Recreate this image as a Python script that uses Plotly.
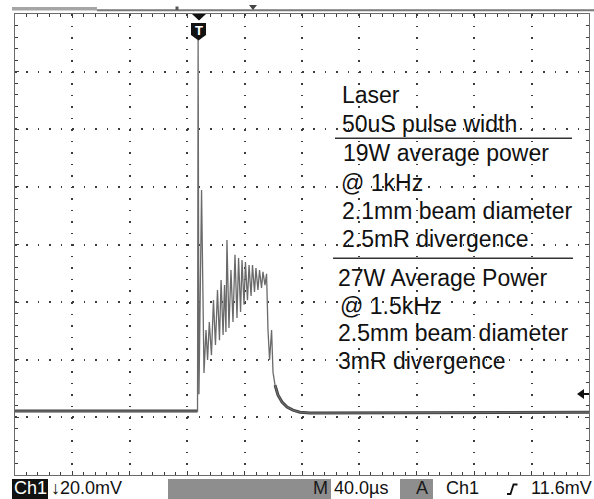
import numpy as np
import plotly.graph_objects as go

# ---------------- data ----------------
# Ch1 trace: time in µs from left edge of screen (40 µs/div), voltage in mV (20 mV/div, 0 = centre)
time_us = [0.0, 127.2, 127.6, 128.2, 130.0, 131.7,
           133.1, 134.2, 135.4, 136.9, 138.3, 139.7, 141.1, 142.5, 143.6, 145.0,
           146.0, 147.0, 147.7, 149.1, 150.5, 151.9, 153.3, 154.7, 155.8, 157.2,
           158.2, 159.6, 160.6, 162.0, 163.1, 164.5, 165.5, 166.9, 167.9, 169.3,
           170.4, 171.8, 172.8, 174.2, 175.3, 176.3, 177.4, 178.8, 179.8, 181.2,
           183.3, 186.1, 189.6, 193.7, 198.6, 205.6, 400.0]
volt_mv = [-57.8, -57.8, 71.0, -52.0, 18.9, -44.6,
           -29.7, -40.1, -26.9, -38.4, -19.3, -34.9, -15.8, -33.2, -12.3, -31.4,
           -14.1, -30.4, 1.6, -29.0, -8.9, -26.9, -3.6, -25.5, -4.7, -23.4,
           -5.4, -20.9, -6.1, -19.3, -7.1, -17.9, -7.1, -16.5, -8.2, -15.8,
           -8.9, -15.1, -9.5, -14.1, -10.2, -29.7, -40.1, -29.7, -44.3, -48.8,
           -52.3, -54.7, -56.4, -57.5, -58.2, -58.5, -58.2]

pulse_start_us = 127.3   # trace is a noisy thick band outside the pulse
tail_start_us = 181.0

# text block on the screen
block_lines = ["Laser", "50uS pulse width",
               "19W average power", "@ 1kHz", "2.1mm beam diameter", "2.5mR divergence",
               "27W Average Power", "@ 1.5kHz", "2.5mm beam diameter", "3mR divergence"]

# status-bar readouts
ch_label = "Ch1"
volts_div = "\u219320.0mV"
time_div = "40.0\u00b5s"
trig_src = "Ch1"
trig_level = "11.6mV"

# axis settings (scope graticule: 10 x 8 divisions)
x_range = [0, 400]
y_range = [-80, 80]
x_div, y_div = 40, 20

# ---------------- layout geometry ----------------
W, H = 594, 499
L, R, T, B = 15, 589, 14, 475


def X(px):
    return (px - L) / (R - L)


def Y(py):
    return (B - py) / (B - T)


t = np.array(time_us)
v = np.array(volt_mv)

fig = go.Figure()
# noise band on the baseline / tail
fig.add_trace(go.Scatter(x=t[t <= pulse_start_us], y=v[t <= pulse_start_us], mode="lines",
                         line=dict(color="#404040", width=3), hoverinfo="skip", showlegend=False))
fig.add_trace(go.Scatter(x=t[t >= tail_start_us], y=v[t >= tail_start_us], mode="lines",
                         line=dict(color="#404040", width=3), hoverinfo="skip", showlegend=False))
# the trace itself
fig.add_trace(go.Scatter(x=t, y=v, mode="lines", line=dict(color="#6a6a6a", width=1.3),
                         hoverinfo="skip", showlegend=False))

grid_col = "#3c3c3c"
common_axis = dict(showticklabels=False, zeroline=False, fixedrange=True)
fig.update_layout(
    width=W, height=H,
    margin=dict(l=L, r=W - R, t=T, b=H - B, pad=0),
    paper_bgcolor="white", plot_bgcolor="white",
    xaxis=dict(range=x_range, dtick=x_div, tick0=0, showgrid=True, gridcolor=grid_col,
               gridwidth=1.5, griddash="1.5px,10.02px",
               showline=True, linecolor="#6a6a6a", linewidth=1, mirror="ticks",
               ticks="inside", ticklen=4, tickcolor=grid_col,
               minor=dict(dtick=x_div / 5, ticks="inside", ticklen=3, tickcolor=grid_col),
               **common_axis),
    yaxis=dict(range=y_range, dtick=y_div, tick0=0, showgrid=True, gridcolor=grid_col,
               gridwidth=1.5, griddash="1.5px,9.98px",
               showline=True, linecolor="#6a6a6a", linewidth=1, mirror="ticks",
               ticks="inside", ticklen=4, tickcolor=grid_col,
               minor=dict(dtick=y_div / 5, ticks="inside", ticklen=3, tickcolor=grid_col),
               **common_axis),
    # centre cross-hair tick marks
    xaxis2=dict(range=x_range, overlaying="x", anchor="free", position=0.5, dtick=x_div / 5,
                ticks="outside", ticklen=3, tickcolor=grid_col, showgrid=False, showline=False,
                **common_axis),
    xaxis3=dict(range=x_range, overlaying="x", anchor="free", position=0.5, dtick=x_div / 5,
                ticks="inside", ticklen=3, tickcolor=grid_col, showgrid=False, showline=False,
                **common_axis),
    yaxis2=dict(range=y_range, overlaying="y", anchor="free", position=0.5, dtick=y_div / 5,
                ticks="outside", ticklen=3, tickcolor=grid_col, showgrid=False, showline=False,
                **common_axis),
    yaxis3=dict(range=y_range, overlaying="y", anchor="free", position=0.5, dtick=y_div / 5,
                ticks="inside", ticklen=3, tickcolor=grid_col, showgrid=False, showline=False,
                **common_axis),
)

shapes = []


def rect(x0, y0, x1, y1, color):
    shapes.append(dict(type="rect", xref="paper", yref="paper", x0=X(x0), x1=X(x1),
                       y0=Y(y0), y1=Y(y1), fillcolor=color, line=dict(width=0), layer="above"))


def path(pts, fill=None, color="black", width=0, closed=True):
    d = "M " + " L ".join(f"{X(a):.5f},{Y(b):.5f}" for a, b in pts) + (" Z" if closed else "")
    shapes.append(dict(type="path", xref="paper", yref="paper", path=d,
                       fillcolor=fill if fill else "rgba(0,0,0,0)",
                       line=dict(color=color, width=width), layer="above"))


# status bar
rect(12, 479, 594, 499, "#8e8e8e")
rect(12, 479, 48, 499, "#111111")
rect(48, 479, 168, 499, "white")
rect(331, 479, 400, 499, "white")
rect(433, 479, 594, 499, "white")
# top record bar
rect(12, 7, 97, 10.5, "#a5a5a5")
path([(97, 10.2), (594, 10.2)], color="#777777", width=2, closed=False)
path([(175.5, 6.5), (178.5, 6.5), (178.5, 10), (175.5, 10)], fill="#555555")
path([(249, 5), (257, 5), (253, 10)], fill="#444444")
# trigger position marker "T"
path([(192, 14), (206, 14), (199, 20.5)], fill="#111111")
path([(191, 23), (206, 23), (206, 35), (198.5, 40.5), (191, 35)], fill="#111111")
# trigger level arrow at right
path([(577, 394), (584, 389), (584, 399)], fill="#111111")
path([(584, 394), (589, 394)], color="#111111", width=2, closed=False)
# slope symbol in the status bar
path([(507, 494), (510.5, 494), (513.5, 484.5), (517.5, 484.5)], color="#111111", width=1.8,
     closed=False)
# separator lines in text block
path([(335, 138.3), (572, 138.3)], color="#333333", width=1.5, closed=False)
path([(333, 258.3), (573, 258.3)], color="#333333", width=1.5, closed=False)

fig.update_layout(shapes=shapes)

ann = []
font_txt = "Liberation Sans, Arial, sans-serif"
line_x = [340, 340, 341, 339, 340, 340, 336, 338, 336, 336]
line_y = [94.7, 124, 153, 183, 210.5, 239, 277.5, 305.5, 333, 361]
for txt, lx, ly in zip(block_lines, line_x, line_y):
    ann.append(dict(text=txt, x=X(lx), y=Y(ly), xref="paper", yref="paper", xanchor="left",
                    yanchor="middle", showarrow=False,
                    font=dict(family=font_txt, size=23, color="#111111")))


def sb(txt, px, anchor, color="#111111", size=18):
    ann.append(dict(text=txt, x=X(px), y=Y(488.5), xref="paper", yref="paper", xanchor=anchor,
                    yanchor="middle", showarrow=False, borderpad=0,
                    font=dict(family=font_txt, size=size, color=color)))


sb(ch_label, 30, "center", color="white")
sb(volts_div, 50, "left")
sb("M", 329, "right", color="#1a1a1a")
sb(time_div, 333, "left")
sb("A", 422, "center", color="#1a1a1a")
sb(trig_src, 445, "left")
sb(trig_level, 593, "right")
ann.append(dict(text="<b>T</b>", x=X(198.5), y=Y(30), xref="paper", yref="paper",
                xanchor="center", yanchor="middle", showarrow=False,
                font=dict(family=font_txt, size=13, color="white")))
fig.update_layout(annotations=ann)

fig.write_html("out.html")
